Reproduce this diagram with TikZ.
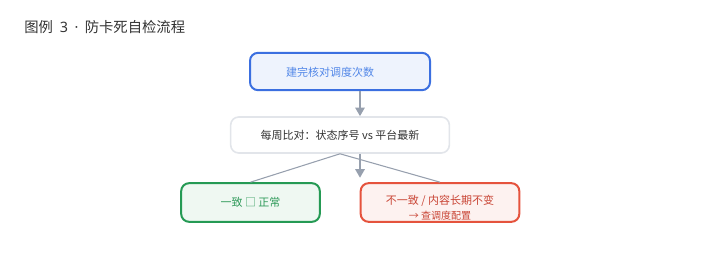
\documentclass[tikz,border=0pt]{standalone}
\usepackage{fontspec}
\setmainfont{Noto Sans CJK SC}
\newfontfamily\latinfont{Noto Sans}
\usetikzlibrary{arrows.meta,calc}
\definecolor{blueB}{HTML}{3B6FE0}
\definecolor{blueF}{HTML}{EEF3FD}
\definecolor{blueT}{HTML}{5287E8}
\definecolor{grayB}{HTML}{E2E5EA}
\definecolor{textD}{HTML}{333333}
\definecolor{greenB}{HTML}{259A54}
\definecolor{greenF}{HTML}{EFF8F2}
\definecolor{greenT}{HTML}{2F9A5A}
\definecolor{redB}{HTML}{E5533D}
\definecolor{redF}{HTML}{FDF2F0}
\definecolor{redT}{HTML}{C94535}
\definecolor{conn}{HTML}{97A0AE}
\tikzset{
  box/.style={draw, rounded corners=6pt, inner sep=0pt, font=\fontsize{8.25pt}{10pt}\selectfont},
  flowarrow/.style={draw=conn, line width=1.5pt, -{Triangle[length=6.5pt,width=7pt]}},
  branch/.style={draw=conn, line width=0.8pt},
}
\begin{document}
\begin{tikzpicture}[x=0.75pt,y=-0.75pt]
\useasboundingbox (0,0) rectangle (720,270);
\node[anchor=west, inner sep=0pt, text=textD, font=\fontsize{10.75pt}{12pt}\selectfont] (title) at (24,27) {图例{\latinfont\kern2.5pt\ 3\kern2pt\ ·\kern2pt\ }防卡死自检流程};
\node[box, draw=blueB, fill=blueF, line width=1.5pt, minimum width=135pt, minimum height=28pt] (top) at (340,71.5) {};
\node[text=blueT, font=\fontsize{8.25pt}{10pt}\selectfont] (topT) at (330,72) {建完核对调度次数};
\node[box, draw=grayB, fill=white, text=textD, line width=1.2pt, minimum width=164pt, minimum height=27pt] (mid) at (340,135) {每周比对：状态序号 vs 平台最新};
\node[box, draw=greenB, fill=greenF, text=greenT, line width=1.5pt, minimum width=104pt, minimum height=29pt] (ok) at (250.5,202.5) {一致 □ 正常};
\node[box, draw=redB, fill=redF, text=redT, line width=1.5pt, minimum width=119pt, minimum height=29pt] (bad) at (440,202.5) {};
\node[text=redT, font=\fontsize{8.25pt}{10pt}\selectfont] (badA) at (440,201) {不一致 / 内容长期不变};
\node[text=redT, font=\fontsize{7.5pt}{9pt}\selectfont] (badB) at (440,216) {→ 查调度配置};
\coordinate (a1s) at ($(top.south)+(20,0)$);
\coordinate (a1e) at ($(mid.north)+(20,0)$);
\draw[flowarrow] (a1s) -- (a1e);
\coordinate (a2s) at ($(mid.south)+(20,0)$);
\coordinate (a2e) at ($(mid.south)+(20,24)$);
\draw[flowarrow] (a2s) -- (a2e);
\draw[branch] (mid.south) -- (ok.north);
\draw[branch] (mid.south) -- (bad.north);
\end{tikzpicture}
\end{document}
